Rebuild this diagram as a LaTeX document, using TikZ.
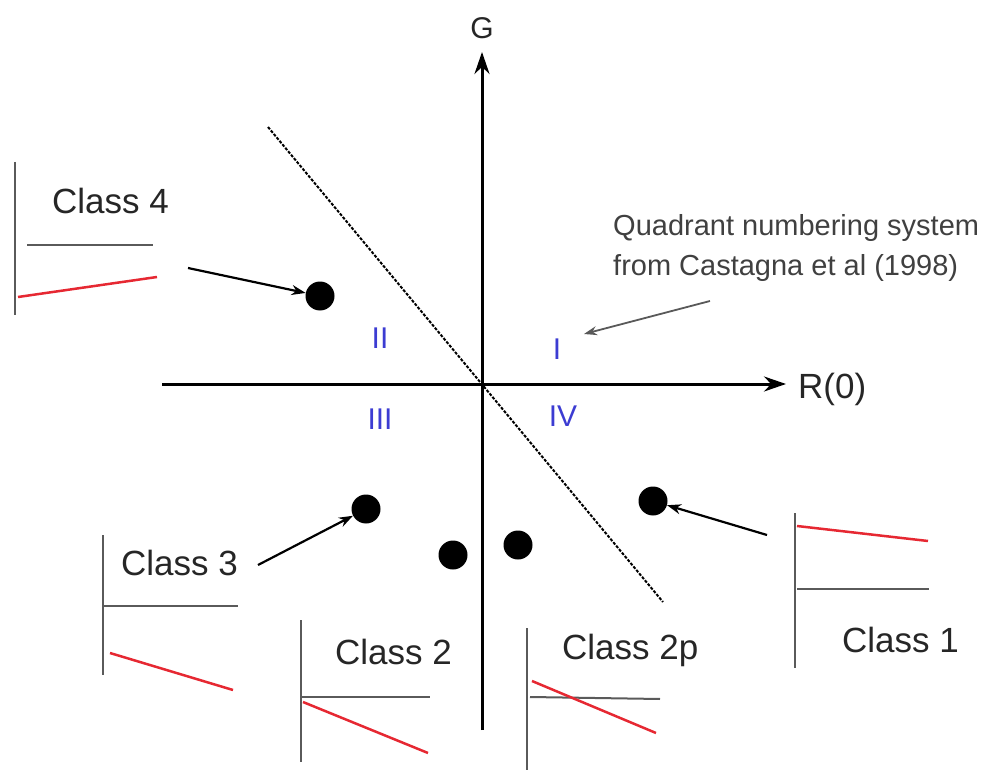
\documentclass[tikz,border=0pt]{standalone}
\usepackage{fontspec}
\setmainfont{Liberation Sans}
\usetikzlibrary{arrows.meta}
\definecolor{quad}{RGB}{60,60,210}
\definecolor{redl}{RGB}{230,40,50}
\definecolor{grayl}{RGB}{90,90,90}
\tikzset{
  axis/.style={line width=3pt,-{Stealth[length=22pt,width=15pt]}},
  dot/.style={circle,fill=black,minimum size=29pt,inner sep=0pt},
  lbl/.style={font=\fontsize{35}{40}\selectfont,text=black!85,inner sep=0pt},
  qlbl/.style={font=\fontsize{30}{34}\selectfont,text=quad,inner sep=0pt},
  vbar/.style={line width=2pt,grayl},
  hbar/.style={line width=2pt,grayl},
  rbar/.style={line width=2.5pt,redl},
  pt/.style={line width=2.2pt,-{Stealth[length=14pt,width=10pt]}},
}
\begin{document}
\begin{tikzpicture}[x=1pt,y=-1pt]
\useasboundingbox (0,0) rectangle (1005,773);
% axes
\coordinate (yb) at (482,730);
\coordinate (yt) at (482,52);
\coordinate (xl) at (162,384);
\coordinate (xr) at (786,384);
\draw[axis] (yb) -- (yt);
\draw[axis] (xl) -- (xr);
\node[lbl,font=\fontsize{30}{34}\selectfont] (G) at (482,28) {G};
\node[lbl,anchor=west] (R) at (798,389) {R(0)};
% dashed line
\coordinate (da) at (268,127);
\coordinate (db) at (663,602);
\draw[line width=2pt,dash pattern=on 3pt off 1.5pt] (da) -- (db);
% quadrant labels
\node[qlbl] (qII) at (380,338) {II};
\node[qlbl] (qI) at (557,349) {I};
\node[qlbl] (qIII) at (380,419) {III};
\node[qlbl] (qIV) at (563,416) {IV};
% annotation
\node[anchor=north west,align=left,inner sep=0pt,text=black!75,
      font=\fontsize{29}{40}\selectfont] (note) at (613,214)
  {Quadrant numbering system\\ from Castagna et al (1998)};
\coordinate (na) at (710,301);
\coordinate (nb) at (584,334);
\draw[line width=1.8pt,black!65,-{Stealth[length=13pt,width=9pt]}] (na) -- (nb);
% dots
\node[dot] (d4) at (320,296) {};
\node[dot] (d3) at (366,509) {};
\node[dot] (d2) at (453,555) {};
\node[dot] (d2p) at (518,545) {};
\node[dot] (d1) at (653,501) {};
% Class 4
\draw[vbar] (15,162) -- (15,315);
\draw[hbar] (27,245) -- (153,245);
\draw[rbar] (18,297) -- (157,277);
\node[lbl,anchor=west] (c4) at (52,201) {Class 4};
\coordinate (a4) at (188,268);
\draw[pt] (a4) -- (d4);
% Class 3
\draw[vbar] (103,535) -- (103,675);
\draw[hbar] (103,606) -- (238,606);
\draw[rbar] (110,653) -- (233,690);
\node[lbl,anchor=west] (c3) at (121,563) {Class 3};
\coordinate (a3) at (258,565);
\draw[pt] (a3) -- (d3);
% Class 2
\draw[vbar] (301,620) -- (301,762);
\draw[hbar] (301,697) -- (430,697);
\draw[rbar] (303,702) -- (428,753);
\node[lbl,anchor=west] (c2) at (335,652) {Class 2};
% Class 2p
\draw[vbar] (527,628) -- (527,770);
\draw[hbar] (530,697) -- (660,699);
\draw[rbar] (532,681) -- (656,733);
\node[lbl,anchor=west] (c2p) at (562,650) {Class 2p};
% Class 1
\draw[vbar] (795,513) -- (795,668);
\draw[rbar] (797,526) -- (928,541);
\draw[hbar] (797,589) -- (929,589);
\node[lbl,anchor=west] (c1) at (842,640) {Class 1};
\coordinate (a1) at (767,535);
\draw[pt] (a1) -- (d1);
\end{tikzpicture}
\end{document}
